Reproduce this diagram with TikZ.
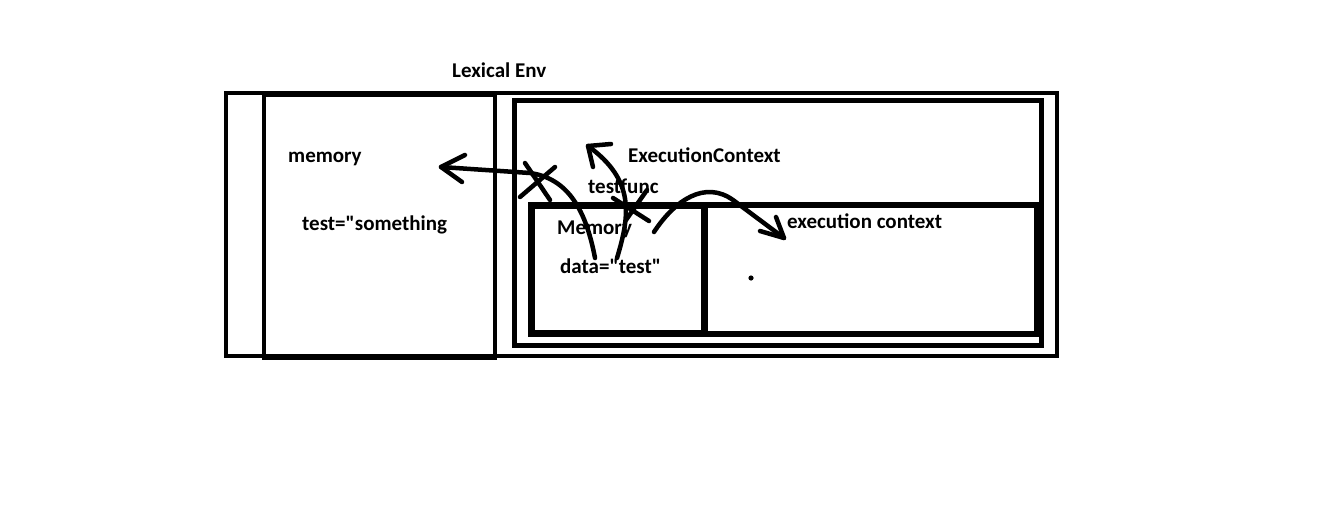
\documentclass[tikz,border=0pt]{standalone}
\usepackage{fontspec}
\setmainfont{Carlito}[Ligatures=TeXOff]
\begin{document}
\begin{tikzpicture}[x=1pt,y=-1pt,
  lbl/.style={anchor=base west,inner sep=0pt,font=\bfseries\fontsize{21}{23}\selectfont},
  frame/.style={draw=black,line width=4pt},
  pen/.style={draw=black,line width=4.5pt,line cap=round,line join=round}]
\useasboundingbox[fill=white] (0,0) rectangle (1330,512);
% boxes
\draw[frame] (226,93) rectangle (1057,356);
\draw[frame] (264,95) rectangle (495,358);
\draw[frame,line width=5pt] (264,94) -- (495,94);
\draw[frame,line width=5pt] (514.5,100) rectangle (1041,345.5);
\draw[frame,line width=7pt] (531,205) rectangle (704,333.5);
\draw[frame,line width=6pt] (704,205) rectangle (1036.5,333.5);
\fill (751,278) circle (2.6);
% labels
\node[lbl] (lex) at (452,77) {Lexical Env};
\node[lbl] (mem) at (288,162) {memory};
\node[lbl] (tst) at (302,230) {test="something};
\node[lbl] (ec) at (628,162) {ExecutionContext};
\node[lbl] (tf) at (588,193) {testfunc};
\node[lbl] (Mem) at (557,234) {Memory};
\node[lbl] (dat) at (560,273) {data="test"};
\node[lbl] (exc) at (787,228) {execution context};
% arrow 1 (to memory)
\coordinate (a1s) at (595,258);
\coordinate (a1t) at (441,167);
\draw[pen] (a1s) .. controls (585,205) and (565,178) .. (530,173) -- (a1t);
\draw[pen] (465,155) -- (a1t) -- (462,182);
% cross 1
\draw[pen] (525,163) -- (550,200);
\draw[pen] (555,167) -- (520,197);
% arrow 2 (up)
\coordinate (a2s) at (617,258);
\coordinate (a2t) at (588,146);
\draw[pen] (a2s) .. controls (630,215) and (635,180) .. (a2t);
\draw[pen] (611,144) -- (a2t) -- (593,167);
% cross 2
\draw[pen] (613,198) -- (649,221);
\draw[pen] (647,190) -- (626,220);
% arrow 3 (to execution context)
\coordinate (a3s) at (654,232);
\coordinate (a3t) at (784,238);
\draw[pen] (a3s) .. controls (675,200) and (705,180) .. (733,200) -- (a3t);
\draw[pen] (776,217) -- (a3t) -- (760,231);
\end{tikzpicture}
\end{document}
